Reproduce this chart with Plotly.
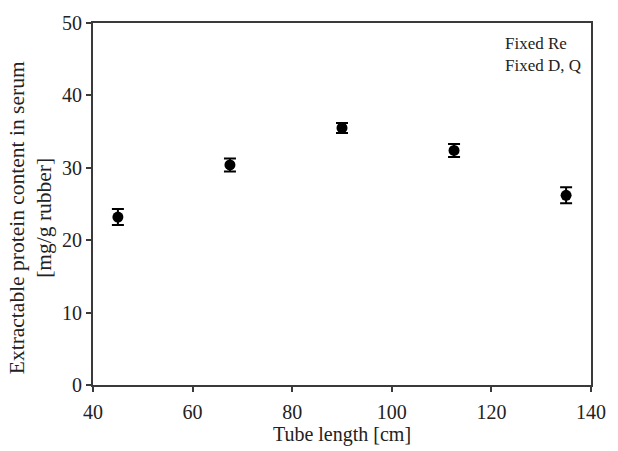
import plotly.graph_objects as go

tube_length = [45, 67.5, 90, 112.5, 135]
protein = [23.2, 30.4, 35.5, 32.4, 26.2]
protein_err = [1.1, 0.9, 0.7, 0.9, 1.1]

x_ticks = [40, 60, 80, 100, 120, 140]
y_ticks = [0, 10, 20, 30, 40, 50]

FONT = "Liberation Serif"
AXC = "#3a3a3a"
L, R, T, B = 93, 602, 19, 385

fig = go.Figure()
fig.add_trace(go.Scatter(
    x=tube_length, y=protein, mode="markers",
    marker=dict(color="black", size=11),
    error_y=dict(type="data", array=protein_err, visible=True,
                 color="black", thickness=2, width=6),
    showlegend=False,
))

fig.update_layout(
    width=618, height=451,
    margin=dict(l=L, r=618 - R, t=T, b=451 - B),
    paper_bgcolor="white", plot_bgcolor="white",
    font=dict(family=FONT, color="#222"),
    xaxis=dict(range=[40, 140], tickvals=x_ticks, showgrid=False, zeroline=False,
               showline=True, linecolor=AXC, linewidth=2, mirror=True,
               ticks="outside", ticklen=5, tickwidth=1.5, tickcolor=AXC,
               ticklabelstandoff=3,
               tickfont=dict(size=20, family=FONT),
               title=dict(text="Tube length [cm]", font=dict(size=20, family=FONT), standoff=2)),
    yaxis=dict(range=[0, 50], tickvals=y_ticks, showgrid=False, zeroline=False,
               showline=True, linecolor=AXC, linewidth=2, mirror=True,
               ticks="outside", ticklen=5, tickwidth=1.5, tickcolor=AXC,
               tickfont=dict(size=20, family=FONT)),
)

# y-axis title placed as rotated annotation
fig.add_annotation(
    x=(29 - L) / (R - L), y=(B - 216) / (B - T), xref="paper", yref="paper",
    text="Extractable protein content in serum<br>[mg/g rubber]",
    showarrow=False, textangle=-90, xanchor="center", yanchor="middle",
    font=dict(size=21.5, family=FONT, color="#222"),
)

fig.add_annotation(
    x=(512 - L) / (R - L), y=(B - 51) / (B - T), xref="paper", yref="paper",
    text="Fixed Re<br>Fixed D, Q",
    showarrow=False, align="left", xanchor="left", yanchor="middle",
    font=dict(size=17, family=FONT, color="#222"),
)

fig.write_html("out.html")
